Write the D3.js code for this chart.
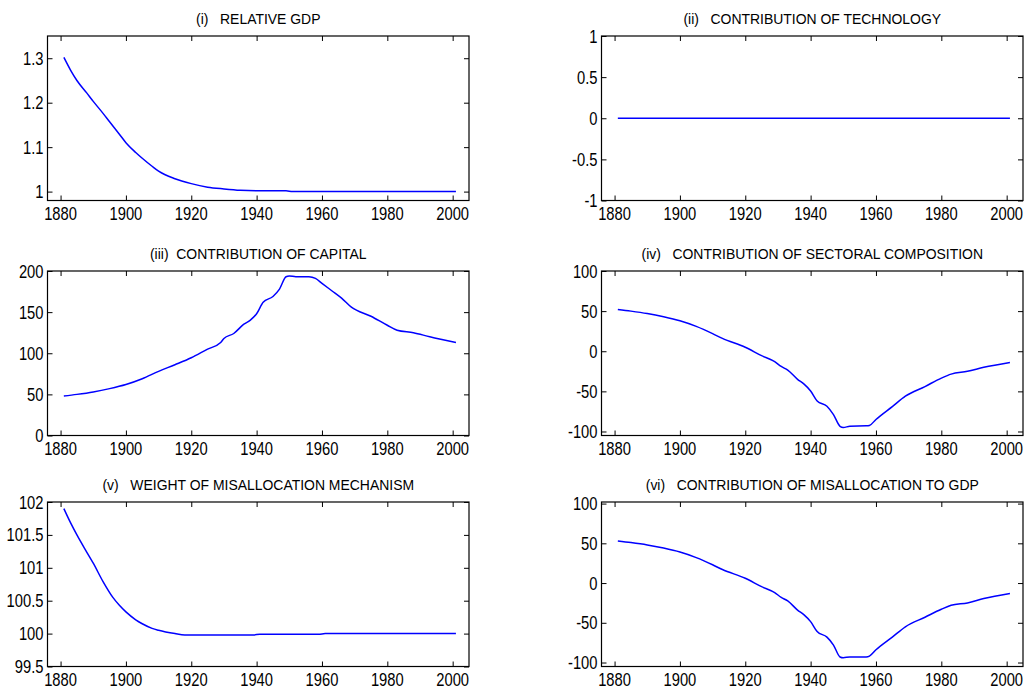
<!DOCTYPE html>
<html lang="en">
<head>
<meta charset="utf-8" />
<script src="https://cdnjs.cloudflare.com/ajax/libs/d3/7.8.5/d3.min.js"></script>
<style>
  body { margin: 0; background: #fff; }
  svg text { font-family: "Liberation Sans", Arial, sans-serif; fill: #000; white-space: pre; }
</style>
</head>
<body>
<div id="chart"></div>
<script>
// values
var xTicks = [1880, 1900, 1920, 1940, 1960, 1980, 2000];

var gdpYears = [1881, 1883, 1885, 1888, 1890, 1893, 1895, 1898, 1900, 1903, 1905, 1908, 1910, 1915, 1920, 1925, 1930, 1935, 1940, 1949, 1951, 1970, 2001];
var gdpVals  = [1.302, 1.274, 1.250, 1.222, 1.203, 1.176, 1.157, 1.129, 1.110, 1.088, 1.075, 1.057, 1.046, 1.029, 1.018, 1.010, 1.006, 1.003, 1.002, 1.002, 1.0, 1.0, 1.0];

var techYears = [1881, 2001];
var techVals  = [0, 0];

var capYears = [1881, 1885, 1890, 1895, 1900, 1905, 1910, 1915, 1920, 1925, 1929, 1930, 1933, 1936, 1938, 1940, 1942, 1945, 1947, 1949, 1950, 1952, 1956, 1958, 1960, 1963, 1966, 1969, 1975, 1980, 1983, 1988, 1993, 2001];
var capVals  = [48, 50, 53, 57, 62, 69, 78, 86, 94.5, 105, 113, 118, 124, 135, 140, 148, 162, 169, 178, 193, 194, 193, 193, 191, 185, 176, 167, 156, 145, 134, 128, 125, 120, 113];

var secYears = [1881, 1885, 1890, 1895, 1900, 1905, 1910, 1913, 1920, 1925, 1929, 1931, 1933, 1936, 1938, 1940, 1942, 1945, 1947, 1949, 1950, 1952, 1957, 1958, 1960, 1965, 1969, 1975, 1980, 1983, 1988, 1993, 2001];
var secVals  = [52, 50, 47, 43, 38, 31, 22, 16, 5, -5.5, -13, -19, -23.5, -35, -41, -49.5, -62, -68.5, -79, -93.5, -95, -93.5, -93, -92.5, -85, -69, -56, -44, -33.5, -28.5, -25, -20, -14];

var wYears = [1881, 1883, 1885, 1888, 1890, 1893, 1896, 1898, 1900, 1903, 1905, 1908, 1910, 1915, 1918, 1939, 1941, 1959, 1961, 2001];
var wVals  = [101.9, 101.69, 101.5, 101.24, 101.07, 100.79, 100.55, 100.43, 100.33, 100.21, 100.15, 100.08, 100.05, 100.0, 99.98, 99.98, 99.99, 99.99, 100.0, 100.0];

var misYears = [1881, 1885, 1890, 1895, 1900, 1905, 1910, 1913, 1920, 1925, 1929, 1931, 1933, 1936, 1938, 1940, 1942, 1945, 1947, 1949, 1950, 1952, 1957, 1958, 1960, 1965, 1969, 1975, 1980, 1983, 1988, 1993, 2001];
var misVals  = [53, 51, 48, 44, 39, 32, 23, 17, 6, -4.5, -12, -18, -22.5, -34, -40, -48.5, -61, -68, -78, -93, -94, -93, -93, -92, -84, -68, -55, -43, -33, -28, -25, -19.5, -13];

var titles = [
  "(i)   RELATIVE GDP",
  "(ii)   CONTRIBUTION OF TECHNOLOGY",
  "(iii)  CONTRIBUTION OF CAPITAL",
  "(iv)   CONTRIBUTION OF SECTORAL COMPOSITION",
  "(v)   WEIGHT OF MISALLOCATION MECHANISM",
  "(vi)   CONTRIBUTION OF MISALLOCATION TO GDP"
];
var yDomains = [[0.98, 1.35], [-1, 1], [0, 200], [-105, 100], [99.5, 102], [-105, 102]];
var yTicks = [
  [1, 1.1, 1.2, 1.3],
  [-1, -0.5, 0, 0.5, 1],
  [0, 50, 100, 150, 200],
  [-100, -50, 0, 50, 100],
  [99.5, 100, 100.5, 101, 101.5, 102],
  [-100, -50, 0, 50, 100]
];
var series = [
  [gdpYears, gdpVals], [techYears, techVals],
  [capYears, capVals], [secYears, secVals],
  [wYears, wVals], [misYears, misVals]
];

var width = 1032, height = 697;
var colLeft = [47.5, 601.5], colW = 421.5;
var rowTop = [36, 271, 502], rowH = 164.5;
var tickLen = 5;

var svg = d3.select("#chart").append("svg")
  .attr("width", width)
  .attr("height", height);

// text is squeezed sideways in the original, so scale it a bit
function label(g, x, y, txt, size, anchor, sx) {
  g.append("text")
    .attr("transform", "translate(" + x + "," + y + ") scale(" + sx + ",1)")
    .attr("text-anchor", anchor)
    .attr("xml:space", "preserve")
    .style("font-size", size + "px")
    .text(txt);
}

for (var i = 0; i < 6; i++) {
  var col = i % 2, row = Math.floor(i / 2);
  var x0 = colLeft[col], y0 = rowTop[row];
  var g = svg.append("g").attr("transform", "translate(" + x0 + "," + y0 + ")");

  var x = d3.scaleLinear().domain([1876, 2005]).range([0, colW]);
  var y = d3.scaleLinear().domain(yDomains[i]).range([rowH, 0]);

  // inward ticks on all four sides
  var axB = g.append("g").attr("transform", "translate(0," + rowH + ")")
    .call(d3.axisBottom(x).tickValues(xTicks).tickSize(-tickLen).tickFormat(""));
  var axT = g.append("g")
    .call(d3.axisTop(x).tickValues(xTicks).tickSize(-tickLen).tickFormat(""));
  var axL = g.append("g")
    .call(d3.axisLeft(y).tickValues(yTicks[i]).tickSize(-tickLen).tickFormat(""));
  var axR = g.append("g").attr("transform", "translate(" + colW + ",0)")
    .call(d3.axisRight(y).tickValues(yTicks[i]).tickSize(-tickLen).tickFormat(""));
  [axB, axT, axL, axR].forEach(function (a) {
    a.select(".domain").remove();
    a.selectAll("line").attr("stroke", "#000").attr("stroke-width", 1);
  });

  g.append("rect")
    .attr("width", colW).attr("height", rowH)
    .attr("fill", "none").attr("stroke", "#000").attr("stroke-width", 1.2);

  xTicks.forEach(function (t) {
    label(g, x(t), rowH + 19, String(t), 18, "middle", 0.82);
  });
  yTicks[i].forEach(function (t) {
    label(g, -4, y(t) + 6.5, String(t), 18, "end", 0.82);
  });

  label(g, colW / 2, -12, titles[i], 15.5, "middle", 0.9);

  var pts = d3.zip(series[i][0], series[i][1]);
  g.append("path")
    .datum(pts)
    .attr("fill", "none")
    .attr("stroke", "#0000ff")
    .attr("stroke-width", 1.5)
    .attr("d", d3.line().curve(d3.curveMonotoneX)
      .x(function (d) { return x(d[0]); })
      .y(function (d) { return y(d[1]); }));
}
</script>
</body>
</html>
